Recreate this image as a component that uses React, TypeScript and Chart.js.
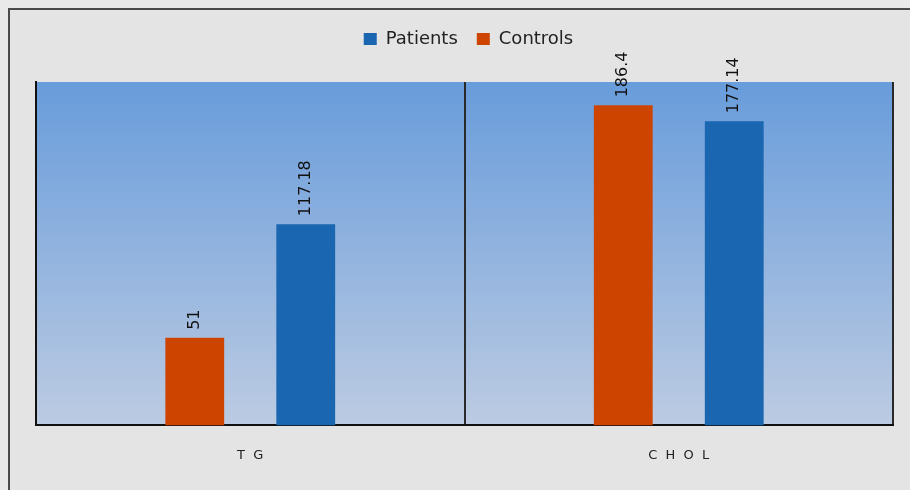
import React, { useEffect, useRef } from "react";
import { Chart, registerables } from "chart.js";

Chart.register(...registerables);

const categories = ["T  G", "C  H  O  L"];
const controlsValues = [51, 186.4];
const patientsValues = [117.18, 177.14];
const controlsLabels = ["51", "186.4"];
const patientsLabels = ["117.18", "177.14"];
const yMin = 0;
const yMax = 200;

const legendSpacer = {
  id: "legendSpacer",
  beforeInit(chart: any) {
    const legend = chart.legend;
    if (!legend) return;
    const fit = legend.fit;
    legend.fit = function () {
      fit.call(legend);
      legend.height += 24;
    };
    const draw = legend.draw;
    legend.draw = function (...args: any[]) {
      const ctx = chart.ctx;
      ctx.save();
      ctx.translate(4, 0);
      draw.apply(legend, args);
      ctx.restore();
    };
  },
};

const gradientPlugin = {
  id: "areaGradient",
  beforeDraw(chart: any) {
    const { ctx, chartArea } = chart;
    if (!chartArea) return;
    const g = ctx.createLinearGradient(0, chartArea.top, 0, chartArea.bottom);
    g.addColorStop(0, "#689cdb");
    g.addColorStop(1, "#bccbe2");
    ctx.save();
    ctx.fillStyle = g;
    ctx.fillRect(chartArea.left, chartArea.top, chartArea.right - chartArea.left, chartArea.bottom - chartArea.top);
    ctx.restore();
  },
};

const labelPlugin = {
  id: "valueLabels",
  afterDatasetsDraw(chart: any) {
    const { ctx } = chart;
    const texts = [controlsLabels, patientsLabels];
    chart.data.datasets.forEach((ds: any, di: number) => {
      const meta = chart.getDatasetMeta(di);
      meta.data.forEach((el: any, i: number) => {
        ctx.save();
        ctx.translate(el.x, el.y - 8);
        ctx.rotate(-Math.PI / 2);
        ctx.font = "16px 'DejaVu Sans'";
        ctx.fillStyle = "#111";
        ctx.textAlign = "left";
        ctx.textBaseline = "middle";
        ctx.fillText(texts[di][i], 0, 0);
        ctx.restore();
      });
    });
  },
};

export default function App() {
  const ref = useRef<HTMLCanvasElement>(null);
  useEffect(() => {
    document.documentElement.style.background = "#e9e9e9";
    Chart.defaults.font.family = "'DejaVu Sans'";
    const chart = new Chart(ref.current!, {
      type: "bar",
      data: {
        labels: categories,
        datasets: [
          {
            label: "Controls",
            data: controlsValues,
            backgroundColor: "#cc4400",
            categoryPercentage: 0.518,
            barPercentage: 0.53,
          },
          {
            label: "Patients",
            data: patientsValues,
            backgroundColor: "#1a66b0",
            categoryPercentage: 0.518,
            barPercentage: 0.53,
          },
        ],
      },
      options: {
        animation: false,
        responsive: false,
        layout: { padding: { left: 26, right: 17, top: 1, bottom: 5 } },
        plugins: {
          legend: {
            reverse: true,
            labels: {
              boxWidth: 13,
              boxHeight: 12,
              padding: 19,
              color: "#222",
              font: { size: 18 },
            },
          },
          tooltip: { enabled: false },
        },
        scales: {
          x: {
            offset: true,
            grid: { display: true, offset: true, color: "#2a2a2a", lineWidth: 2, drawTicks: false },
            border: { display: true, color: "#111", width: 2 },
            ticks: { color: "#222", font: { size: 13 }, padding: 22 },
          },
          y: {
            min: yMin,
            max: yMax,
            grid: { display: false, drawTicks: false },
            border: { display: true, color: "#111", width: 2 },
            ticks: { display: false },
          },
        },
      },
      plugins: [legendSpacer, gradientPlugin, labelPlugin],
    });
    return () => chart.destroy();
  }, []);
  return (
    <div
      style={{
        position: "fixed",
        left: 8,
        top: 8,
        width: 910,
        height: 490,
        borderLeft: "2px solid #4a4a4a",
        borderTop: "2px solid #4a4a4a",
        background: "#e4e4e4",
      }}
    >
      <canvas ref={ref} width={900} height={480} style={{ display: "block" }} />
    </div>
  );
}
